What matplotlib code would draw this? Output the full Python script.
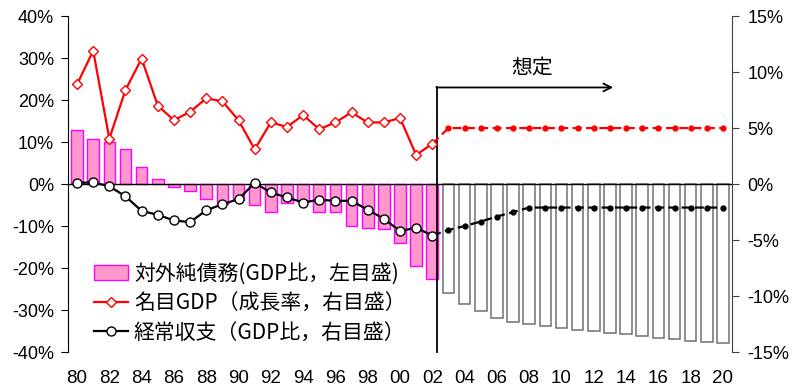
import numpy as np
import matplotlib.pyplot as plt
from matplotlib.patches import Patch
from matplotlib.lines import Line2D

years = list(range(1980, 2021))
year_labels = ['%02d' % (y % 100) if y % 2 == 0 else '' for y in years]

# 対外純債務 (GDP比, %) 1980-2002 actual, 2003-2020 projection
debt_actual = [12.8, 10.8, 10.0, 8.4, 4.0, 1.3, -0.8, -1.7, -3.6, -4.8, -3.8,
               -5.1, -6.7, -4.6, -4.0, -6.7, -6.7, -10.0, -10.4, -10.8, -14.0,
               -19.6, -22.6]
debt_proj = [-25.9, -28.5, -30.3, -31.8, -32.8, -33.3, -33.7, -34.2, -34.7,
             -35.1, -35.5, -35.8, -36.2, -36.6, -37.0, -37.3, -37.6, -37.9]

# 名目GDP成長率 (%)
gdp_actual = [8.9, 11.9, 4.05, 8.4, 11.2, 7.0, 5.7, 6.45, 7.65, 7.4, 5.7, 3.1,
              5.5, 5.1, 6.15, 4.9, 5.5, 6.4, 5.5, 5.5, 5.9, 2.6, 3.6]
gdp_proj = [5.0] * 18

# 経常収支 (GDP比, %)
ca_actual = [0.1, 0.15, -0.2, -1.1, -2.4, -2.75, -3.25, -3.4, -2.35, -1.8,
             -1.35, 0.1, -0.75, -1.2, -1.65, -1.4, -1.5, -1.5, -2.3, -3.1,
             -4.2, -3.9, -4.6]
ca_proj = [-4.1, -3.75, -3.35, -2.9, -2.5, -2.1, -2.1, -2.1, -2.1, -2.1,
           -2.1, -2.1, -2.1, -2.1, -2.1, -2.1, -2.1, -2.1]

legend_labels = ['対外純債務(GDP比，左目盛)', '名目GDP（成長率，右目盛）',
                 '経常収支（GDP比，右目盛）']

plt.rcParams['font.family'] = ['Liberation Sans', 'DejaVu Sans']
jp_font = ['Noto Sans CJK JP', 'DejaVu Sans']

n_act = len(debt_actual)
x = np.arange(len(years))
x_act = x[:n_act]
x_proj = x[n_act:]

fig = plt.figure(figsize=(8, 3.92), dpi=100)
ax = fig.add_axes([0.085, 0.102, 0.83, 0.857])
ax2 = ax.twinx()

# bars on the left axis
ax.bar(x_act, debt_actual, width=0.72, color='#FF99CC', edgecolor='#FF00FF', linewidth=1)
ax.bar(x_proj, debt_proj, width=0.72, color='white', edgecolor='#707070', linewidth=1.1)
ax.axhline(0, color='black', lw=1, zorder=5)

ax.set_xlim(-0.56, 40.56)
ax.set_ylim(-40, 40)
ax.set_yticks(range(-40, 41, 10))
ax.set_yticklabels(['%d%%' % v for v in range(-40, 41, 10)])
ax.set_xticks(x)
ax.set_xticklabels(year_labels)
ax.tick_params(axis='x', length=0, pad=13, labelsize=13.5)
ax.tick_params(axis='y', direction='out', length=5, pad=5, labelsize=13)

ax2.set_ylim(-15, 15)
ax2.set_yticks(range(-15, 16, 5))
ax2.set_yticklabels(['%d%%' % v for v in range(-15, 16, 5)])
ax2.tick_params(axis='y', direction='out', length=5, pad=6, labelsize=13, color='#404040')

for a in (ax, ax2):
    a.spines['top'].set_visible(False)
    a.spines['bottom'].set_visible(False)
ax.spines['right'].set_visible(False)
ax2.spines['left'].set_visible(False)
ax2.spines['right'].set_color('#404040')

# lines on the right axis
ax2.plot(x_act, gdp_actual, color='red', lw=1.6, marker='D', ms=5.5,
         mfc='white', mec='red', mew=1, zorder=4)
ax2.plot(x[n_act - 1:], [gdp_actual[-1]] + gdp_proj, color='red', lw=1.6,
         ls='--', dashes=(4, 2), zorder=3)
ax2.plot(x_proj, gdp_proj, ls='none', marker='o', ms=3.5, color='red', zorder=4)

ax2.plot(x_act, ca_actual, color='black', lw=1.6, marker='o', ms=6.5,
         mfc='white', mec='black', mew=1, zorder=4)
ax2.plot(x[n_act - 1:], [ca_actual[-1]] + ca_proj, color='black', lw=1.6,
         ls='--', dashes=(4, 2), zorder=3)
ax2.plot(x_proj, ca_proj, ls='none', marker='o', ms=3.5, color='black', zorder=4)

# projection marker: vertical line and arrow
ax.plot([22.3, 22.3], [-40, 23], color='black', lw=1.3, clip_on=False, zorder=6)
ax.annotate('', xy=(33.2, 23), xytext=(22.25, 23),
            arrowprops=dict(arrowstyle='->', color='black', lw=1.3,
                            shrinkA=0, shrinkB=0, mutation_scale=14))
ax.text(28.2, 27.8, '想定', ha='center', va='center', fontsize=15, family=jp_font)

handles = [Patch(facecolor='#FF99CC', edgecolor='#FF00FF'),
           Line2D([], [], color='red', lw=1.6, marker='D', ms=5.5, mfc='white', mec='red'),
           Line2D([], [], color='black', lw=1.6, marker='o', ms=6.5, mfc='white', mec='black')]
leg = ax2.legend(handles, legend_labels, loc='upper left',
                 bbox_to_anchor=(0.118, 1 - 263 / 392), bbox_transform=fig.transFigure,
                 frameon=False, borderpad=0, borderaxespad=0, handlelength=1.6,
                 handletextpad=0.3, labelspacing=0.35,
                 prop={'family': jp_font, 'size': 15})

fig.savefig('out.png', dpi=100)
